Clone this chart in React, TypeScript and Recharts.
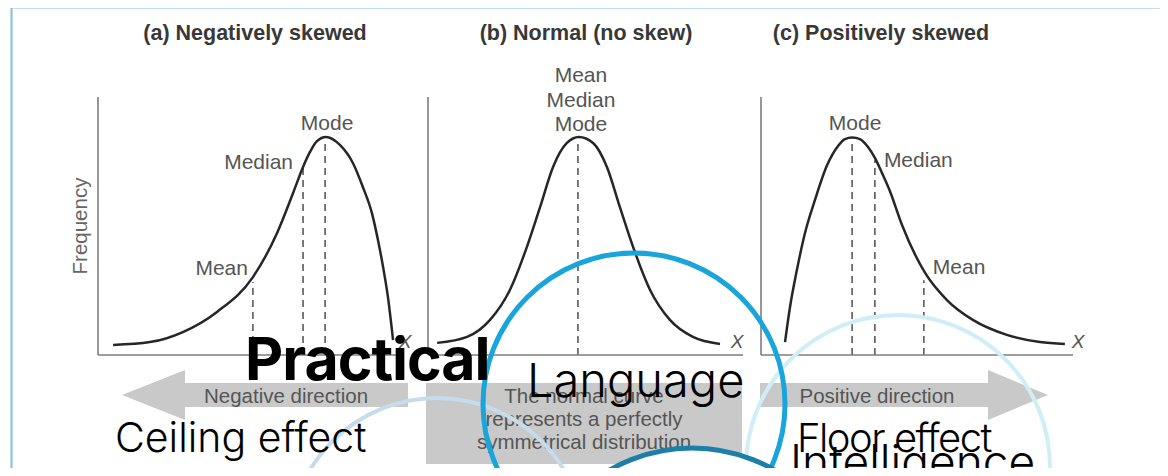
import React from "react";
import { LineChart, Line, XAxis, YAxis, ReferenceLine } from "recharts";

const W = 1168;
const H = 476;

// curve points: x in % of the axis length, f in % of the axis height
const negX = [5.0, 17.2, 28.1, 39.4, 51.3, 59.3, 64.6, 67.9, 70.2, 72.5, 75.5, 80.1, 84.4, 87.7, 90.7, 92.7, 94.4, 96.0, 97.7];
const negY = [3.9, 5.0, 8.9, 16.7, 30.2, 47.3, 62.8, 72.9, 78.7, 82.9, 84.5, 81.4, 74.4, 65.1, 55.0, 44.6, 34.1, 22.5, 5.8];

const normX = [2.9, 12.4, 19.7, 26.0, 31.4, 35.6, 39.7, 44.1, 47.9, 52.4, 56.8, 60.9, 65.1, 70.5, 76.8, 84.1, 92.7];
const normY = [4.7, 7.0, 13.6, 25.2, 41.9, 57.4, 72.9, 82.2, 84.5, 82.2, 72.9, 57.4, 41.9, 25.2, 13.6, 7.0, 4.3];

const posX = [7.7, 9.3, 11.5, 14.1, 17.3, 21.2, 24.7, 26.9, 29.2, 31.7, 34.3, 36.5, 38.8, 41.3, 45.2, 52.6, 59.6, 67.9, 78.8, 89.4, 97.4];
const posY = [5.0, 18.6, 32.9, 47.3, 60.1, 73.6, 81.0, 83.7, 84.3, 83.7, 80.6, 76.4, 70.5, 63.6, 50.4, 31.8, 21.3, 13.6, 7.8, 5.0, 4.3];

// dashed markers: Mean, Median, Mode
const markNames = ["Mean", "Median", "Mode"];
const negMarkX = [51.3, 67.9, 75.2];
const negMarkTop = [28.3, 72.5, 83.3];
const normMarkX = [47.6];
const normMarkTop = [82];
const posMarkX = [52.2, 36.5, 29.2];
const posMarkTop = [29, 75.5, 83];

const titles = ["(a) Negatively skewed", "(b) Normal (no skew)", "(c) Positively skewed"];
const boxLines = ["The normal curve", "represents a perfectly", "symmetrical distribution"];
const arrowLabels = ["Negative direction", "Positive direction"];

const SANS = "'Liberation Sans', Arial, Helvetica, sans-serif";
const GEO = "Inter, 'Noto Sans', sans-serif";
const AXIS = { stroke: "#7d7d7d", strokeWidth: 1.6 };

type Anchor = "start" | "middle" | "end";

function markLabel(lines: string[], dx: number, dy: number, anchor: Anchor) {
  return (props: any) => {
    const vb = props.viewBox || {};
    const x = (vb.x || 0) + dx;
    const y = (vb.y || 0) + dy;
    return (
      <text x={x} y={y} textAnchor={anchor} fontFamily={SANS} fontSize={21} fill="#555">
        {lines.map((t, i) => (
          <tspan key={t} x={x} dy={i === 0 ? 0 : 24.5}>
            {t}
          </tspan>
        ))}
      </text>
    );
  };
}

function xLabel(dx: number) {
  return (props: any) => {
    const vb = props.viewBox || {};
    return (
      <text x={vb.x + vb.width + dx} y={vb.y - 7} textAnchor="middle" fontFamily={SANS} fontStyle="italic" fontSize={19} fill="#555">
        X
      </text>
    );
  };
}

const freqLabel = (props: any) => {
  const vb = props.viewBox || {};
  const cx = vb.x + vb.width - 19;
  const cy = vb.y + vb.height / 2;
  return (
    <text x={cx} y={cy} transform={`rotate(-90 ${cx} ${cy})`} textAnchor="middle" dominantBaseline="central" fontFamily={SANS} fontSize={20.5} fill="#666">
      Frequency
    </text>
  );
};

type Mark = { x: number; top: number; lines: string[]; dx: number; dy: number; anchor: Anchor };

type PanelDef = {
  xs: number[];
  ys: number[];
  left: number;
  right: number;
  xDx: number;
  freq: boolean;
  marks: Mark[];
};

const panels: PanelDef[] = [
  {
    xs: negX,
    ys: negY,
    left: 98,
    right: 400,
    xDx: 5,
    freq: true,
    marks: [
      { x: negMarkX[0], top: negMarkTop[0], lines: [markNames[0]], dx: -5, dy: -7, anchor: "end" },
      { x: negMarkX[1], top: negMarkTop[1], lines: [markNames[1]], dx: -10, dy: 1, anchor: "end" },
      { x: negMarkX[2], top: negMarkTop[2], lines: [markNames[2]], dx: 2, dy: -10, anchor: "middle" },
    ],
  },
  {
    xs: normX,
    ys: normY,
    left: 428,
    right: 743,
    xDx: -6,
    freq: false,
    marks: [{ x: normMarkX[0], top: normMarkTop[0], lines: markNames, dx: 3, dy: -61, anchor: "middle" }],
  },
  {
    xs: posX,
    ys: posY,
    left: 761,
    right: 1073,
    xDx: 5,
    freq: false,
    marks: [
      { x: posMarkX[0], top: posMarkTop[0], lines: [markNames[0]], dx: 9, dy: -6, anchor: "start" },
      { x: posMarkX[1], top: posMarkTop[1], lines: [markNames[1]], dx: 9, dy: 7, anchor: "start" },
      { x: posMarkX[2], top: posMarkTop[2], lines: [markNames[2]], dx: 3, dy: -11, anchor: "middle" },
    ],
  },
];

function Panel({ p }: { p: PanelDef }) {
  const data = p.xs.map((x, i) => ({ x, f: p.ys[i] }));
  return (
    <div style={{ position: "absolute", left: 0, top: 0 }}>
      <LineChart width={W} height={H} data={data} margin={{ top: 97, bottom: H - 356, left: p.left - 1, right: W - p.right }}>
        <XAxis type="number" dataKey="x" domain={[0, 100]} height={1} tick={false} tickLine={false} axisLine={AXIS} label={xLabel(p.xDx)} />
        <YAxis type="number" domain={[0, 100]} width={1} tick={false} tickLine={false} axisLine={AXIS} label={p.freq ? freqLabel : undefined} />
        {p.marks.map((m) => (
          <ReferenceLine
            key={m.lines.join("-")}
            segment={[{ x: m.x, y: 0 }, { x: m.x, y: m.top }]}
            stroke="#5a5a5a"
            strokeWidth={1.6}
            strokeDasharray="7 5"
            label={markLabel(m.lines, m.dx, m.dy, m.anchor)}
          />
        ))}
        <Line type="monotone" dataKey="f" stroke="#262626" strokeWidth={2.5} dot={false} isAnimationActive={false} />
      </LineChart>
    </div>
  );
}

function Overlay() {
  const gray = "#c9c9c9";
  const txt = { fontFamily: SANS, fontSize: 20.5, fill: "#555", textAnchor: "middle" as const };
  const title = { fontFamily: SANS, fontWeight: "bold" as const, fontSize: 21.5, fill: "#383838", textAnchor: "middle" as const };
  return (
    <svg width={W} height={H} style={{ position: "absolute", left: 0, top: 0 }}>
      <rect x={11.5} y={7.5} width={1155} height={490} fill="none" stroke="#80c0d4" strokeWidth={2} />

      <text x={255} y={40} {...title}>{titles[0]}</text>
      <text x={586} y={40} {...title}>{titles[1]}</text>
      <text x={881} y={40} {...title}>{titles[2]}</text>

      <polygon points="122,395 185,370 185,383 408,383 408,407 185,407 185,420" fill={gray} />
      <text x={286} y={403} {...txt}>{arrowLabels[0]}</text>

      <rect x={426} y={383} width={316} height={81} fill={gray} />
      {boxLines.map((t, i) => (
        <text key={t} x={584} y={403 + i * 23} {...txt}>{t}</text>
      ))}

      <polygon points="760,383 988,383 988,370 1048,395 988,420 988,407 760,407" fill={gray} />
      <text x={877} y={403} {...txt}>{arrowLabels[1]}</text>

      <circle cx={437} cy={546} r={148} fill="none" stroke="#c6dcec" strokeWidth={4} />
      <circle cx={898} cy={467} r={152} fill="none" stroke="#cfeef6" strokeWidth={4} />
      <circle cx={634} cy={404} r={151} fill="none" stroke="#19a5db" strokeWidth={5} />
      <circle cx={692} cy={613} r={165} fill="#fff" stroke="#1b7fa7" strokeWidth={5} />

      <text x={245} y={380} fontFamily={GEO} fontWeight={700} fontSize={59} letterSpacing={-1} fill="#000">Practical</text>
      <text x={527} y={397} fontFamily={GEO} fontWeight={300} fontSize={47} fill="#000">Language</text>
      <text x={115} y={452} fontFamily={GEO} fontWeight={300} fontSize={41} fill="#000">Ceiling effect</text>
      <text x={797} y={452} fontFamily={GEO} fontWeight={300} fontSize={40} letterSpacing={-1.5} fill="#000">Floor effect</text>
      <text x={790} y={478} fontFamily={GEO} fontWeight={300} fontSize={46} fill="#000">Intelligence</text>
    </svg>
  );
}

export default function App() {
  return (
    <div style={{ position: "relative", width: W, height: H, margin: -8, overflow: "hidden", background: "#fff" }}>
      {panels.map((p, i) => (
        <Panel key={i} p={p} />
      ))}
      <Overlay />
    </div>
  );
}
